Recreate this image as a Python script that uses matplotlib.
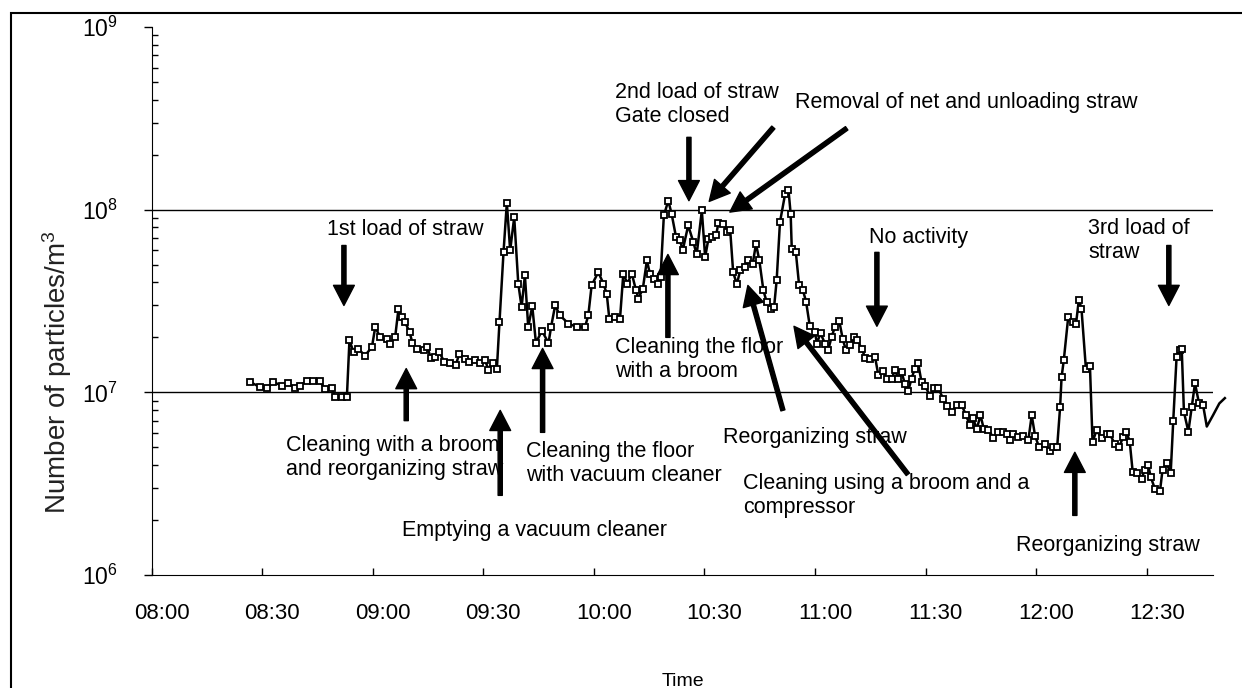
import numpy as np
import matplotlib
matplotlib.use('Agg')
import matplotlib.pyplot as plt
import matplotlib.transforms as mtransforms
from matplotlib.ticker import LogLocator, NullFormatter
from matplotlib.patches import Rectangle

plt.rcParams['font.family'] = ['Liberation Sans', 'DejaVu Sans']
plt.rcParams['mathtext.fontset'] = 'custom'
plt.rcParams['mathtext.rm'] = 'Liberation Sans'
plt.rcParams['mathtext.it'] = 'Liberation Sans:italic'

# minutes after 08:00
minutes = [26.7, 29.4, 31.3, 33.0, 35.3, 37.1, 39.0, 40.3, 42.2, 43.8,
           45.7, 47.1, 48.9, 49.8, 51.6, 53.0, 53.7, 54.8, 56.1, 57.9,
           59.8, 60.7, 62.0, 63.8, 64.7, 66.1, 67.0, 67.9, 68.8, 70.0,
           70.8, 72.0, 73.8, 74.8, 75.8, 76.9, 78.1, 79.4, 81.0, 82.6,
           83.5, 85.1, 86.2, 87.8, 89.1, 90.5, 91.4, 92.6, 93.7, 94.4,
           95.5, 96.4, 97.3, 98.4, 99.5, 100.4, 101.3, 102.2, 103.3, 104.3,
           105.9, 107.7, 108.4, 109.5, 110.8, 113.1, 115.4, 117.6, 118.5, 119.4,
           121.2, 122.6, 123.5, 124.2, 125.8, 127.1, 128.0, 129.1, 130.3, 131.4,
           132.1, 133.3, 134.4, 135.2, 136.3, 137.5, 138.1, 139.0, 140.2, 141.1,
           142.3, 143.4, 144.1, 145.6, 147.0, 147.9, 149.3, 150.2, 151.1, 152.0,
           153.2, 153.8, 155.1, 156.1, 157.0, 157.8, 158.8, 159.7, 161.0, 161.9,
           163.1, 164.0, 164.9, 166.0, 166.9, 168.0, 168.9, 169.6, 170.5, 171.9,
           172.8, 173.4, 173.7, 174.8, 175.7, 176.7, 177.6, 178.6, 180.0, 180.5,
           181.5, 182.7, 183.6, 184.5, 185.4, 186.6, 187.5, 188.4, 189.5, 190.6,
           191.5, 192.7, 193.6, 194.9, 196.3, 197.2, 198.4, 199.5, 200.8, 201.7,
           202.6, 203.5, 204.4, 205.3, 206.2, 207.1, 208.0, 208.9, 209.8, 211.2,
           212.3, 213.4, 214.8, 215.9, 217.1, 218.4, 219.8, 221.0, 222.0, 222.9,
           223.9, 224.9, 225.8, 227.0, 228.4, 229.7, 231.1, 232.2, 232.9, 233.8,
           235.2, 236.5, 237.9, 238.8, 239.7, 240.8, 242.4, 243.7, 244.6, 245.7,
           246.5, 246.9, 247.5, 248.7, 250.1, 250.8, 251.6, 252.3, 253.5, 254.6,
           255.3, 256.4, 257.8, 259.1, 260.0, 261.4, 262.5, 263.6, 264.5, 265.4,
           266.2, 267.4, 268.6, 269.5, 270.4, 271.1, 272.2, 273.6, 274.3, 275.4,
           276.5, 277.2, 278.1, 279.0, 279.5, 280.1, 281.3, 282.2, 283.1, 284.2,
           285.3, 286.3, 288.0, 289.7, 291.2]

# particles/m3, in units of 1e7
conc_e7 = [1.14, 1.07, 1.05, 1.14, 1.09, 1.12, 1.05, 1.09, 1.16, 1.16,
           1.15, 1.04, 1.05, 0.94, 0.94, 0.94, 1.93, 1.66, 1.73, 1.59,
           1.77, 2.28, 2.01, 1.97, 1.85, 2.01, 2.87, 2.58, 2.42, 2.14,
           1.86, 1.73, 1.70, 1.77, 1.54, 1.56, 1.66, 1.47, 1.44, 1.42,
           1.63, 1.53, 1.47, 1.50, 1.44, 1.50, 1.33, 1.45, 1.35, 2.42,
           5.86, 10.9, 5.98, 9.1, 3.94, 2.93, 4.37, 2.28, 2.96, 1.86,
           2.18, 1.86, 2.28, 2.99, 2.64, 2.38, 2.28, 2.28, 2.64, 3.85,
           4.55, 3.94, 3.47, 2.53, 2.58, 2.53, 4.47, 3.94, 4.47, 3.65,
           3.26, 3.70, 5.28, 4.47, 4.19, 3.94, 4.28, 9.3, 11.2, 9.5,
           7.08, 6.79, 5.98, 8.2, 6.65, 5.69, 9.9, 5.5, 6.94, 7.08,
           7.3, 8.45, 8.4, 7.54, 7.7, 4.55, 3.90, 4.65, 4.85, 5.28,
           5.06, 6.5, 5.28, 3.62, 3.12, 2.87, 2.93, 4.10, 8.55, 12.2,
           12.9, 9.5, 6.1, 5.86, 3.85, 3.65, 3.12, 2.30, 2.14, 1.85,
           2.11, 1.85, 1.71, 2.01, 2.28, 2.45, 1.97, 1.70, 1.81, 2.01,
           1.93, 1.73, 1.55, 1.53, 1.56, 1.24, 1.31, 1.19, 1.19, 1.32,
           1.19, 1.29, 1.11, 1.02, 1.19, 1.35, 1.44, 1.14, 1.09, 0.96,
           1.05, 1.06, 0.92, 0.84, 0.78, 0.85, 0.85, 0.75, 0.66, 0.72,
           0.63, 0.75, 0.63, 0.625, 0.565, 0.61, 0.61, 0.59, 0.55, 0.59,
           0.57, 0.58, 0.55, 0.75, 0.58, 0.50, 0.52, 0.48, 0.50, 0.50,
           0.83, 1.21, 1.50, 2.58, 2.42, 2.36, 3.22, 2.87, 1.35, 1.39,
           0.535, 0.62, 0.56, 0.59, 0.59, 0.52, 0.50, 0.57, 0.61, 0.535,
           0.366, 0.36, 0.337, 0.378, 0.40, 0.344, 0.297, 0.288, 0.378, 0.41,
           0.36, 0.70, 1.56, 1.70, 1.73, 0.78, 0.61, 0.83, 1.12, 0.87,
           0.85, 0.65, 0.75, 0.87, 0.93]
conc = np.array(conc_e7) * 1e7

tick_minutes = [0, 30, 60, 90, 120, 150, 180, 210, 240, 270]
tick_labels = ['08:00', '08:30', '09:00', '09:30', '10:00', '10:30',
               '11:00', '11:30', '12:00', '12:30']
decades = [1e6, 1e7, 1e8, 1e9]
decade_labels = [r'$\mathregular{10^{6}}$', r'$\mathregular{10^{7}}$',
                 r'$\mathregular{10^{8}}$', r'$\mathregular{10^{9}}$']
grid_levels = [1e7, 1e8]

# event notes: text, left x (min), y (particles/m3)
note_text = ['1st load of straw',
             'Cleaning with a broom\nand reorganizing straw',
             'Emptying a vacuum cleaner',
             'Cleaning the floor\nwith vacuum cleaner',
             'Cleaning the floor\nwith a broom',
             '2nd load of straw\nGate closed',
             'Removal of net and unloading straw',
             'No activity',
             '3rd load of\nstraw',
             'Reorganizing straw',
             'Cleaning using a broom and a\ncompressor',
             'Reorganizing straw']
note_min = [47.7, 36.5, 68.0, 101.6, 125.7, 125.7, 174.6, 194.6, 254.1, 155.0, 160.6, 234.5]
note_val = [7.8e7, 4.4e6, 1.76e6, 4.07e6, 1.52e7, 3.77e8, 3.87e8, 7.06e7, 6.79e7, 5.69e6, 2.73e6, 1.455e6]

# arrows: tail -> head
arrow_tail_min = [52.2, 69.1, 94.6, 106.1, 140.1, 145.8, 168.7, 188.6, 196.8, 276.0, 171.3, 205.2, 250.5]
arrow_tail_val = [6.37e7, 7.0e6, 2.73e6, 6.04e6, 2.0e7, 2.49e8, 2.82e8, 2.79e8, 5.84e7, 6.37e7, 7.97e6, 3.56e6, 2.12e6]
arrow_head_min = [52.2, 69.1, 94.6, 106.1, 140.1, 145.8, 151.3, 156.9, 196.8, 276.0, 161.8, 174.3, 250.5]
arrow_head_val = [2.99e7, 1.35e7, 7.97e6, 1.74e7, 5.69e7, 1.12e8, 1.11e8, 9.7e7, 2.30e7, 2.99e7, 3.85e7, 2.30e7, 4.7e6]

fig = plt.figure(figsize=(12.42, 6.88), dpi=100)
ax = fig.add_axes([0.122, 0.1642, 0.8547, 0.7965])

ax.plot(minutes, conc, color='black', lw=1.8, marker='s', ms=4, mfc='white',
        mec='black', mew=1.3, markevery=slice(0, len(minutes) - 4),
        clip_on=False, zorder=3)

ax.set_yscale('log')
ax.set_ylim(1e6, 1e9)
ax.set_xlim(0, 288)

for g in grid_levels:
    ax.axhline(g, color='black', lw=1, zorder=1)

ax.spines['top'].set_visible(False)
ax.spines['right'].set_visible(False)

ax.set_xticks(tick_minutes)
ax.set_xticklabels(tick_labels, fontsize=16)
ax.tick_params(axis='x', direction='in', length=5, width=1, pad=20)
offset = mtransforms.ScaledTranslation(0.10, 0, fig.dpi_scale_trans)
for lab in ax.get_xticklabels():
    lab.set_transform(lab.get_transform() + offset)

ax.set_yticks(decades)
ax.set_yticklabels(decade_labels)
ax.yaxis.set_minor_locator(LogLocator(base=10, subs=np.arange(2, 10)))
ax.yaxis.set_minor_formatter(NullFormatter())
ax.tick_params(axis='y', which='major', direction='out', length=6, width=1,
               pad=18, labelsize=16.5)
ax.tick_params(axis='y', which='minor', direction='in', length=4, width=1)

for txt, tx, ty in zip(note_text, note_min, note_val):
    ax.text(tx, ty, txt, ha='left', va='center', fontsize=15.5)

for t0, v0, t1, v1 in zip(arrow_tail_min, arrow_tail_val, arrow_head_min, arrow_head_val):
    ax.annotate('', xy=(t1, v1), xytext=(t0, v0),
                arrowprops=dict(facecolor='black', edgecolor='black', width=3,
                                headwidth=15, headlength=14.5, shrink=0))

fig.text(57 / 1242, 1 - 372 / 688, 'Number of particles/m$^3$', rotation=90,
         ha='center', va='center', fontsize=20, color='#222222')
fig.text(683 / 1242, 2 / 688, 'Time', ha='center', va='baseline', fontsize=14)

fig.add_artist(Rectangle((11 / 1242, -0.1), 1.2, 1.1 - 13 / 688, transform=fig.transFigure,
                         fill=False, ec='black', lw=1.5, clip_on=False))

fig.savefig('out.png', dpi=100)
